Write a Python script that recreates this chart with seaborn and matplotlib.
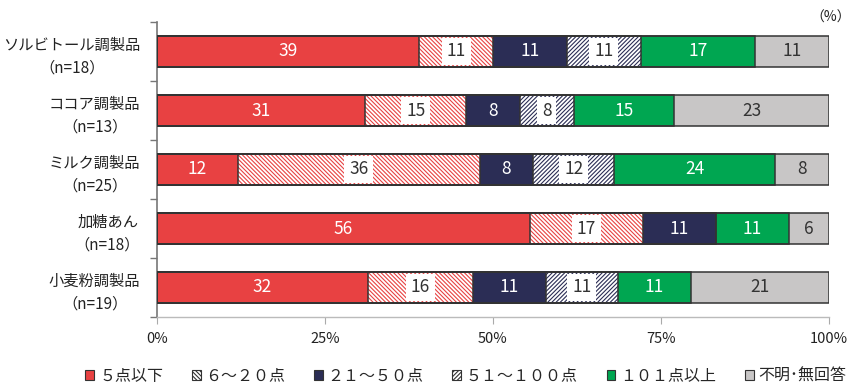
import numpy as np
import pandas as pd
import matplotlib
matplotlib.use("Agg")
import matplotlib.pyplot as plt
from matplotlib.patches import Patch
import seaborn as sns

# ---- data -------------------------------------------------------------
products = ["ソルビトール調製品", "ココア調製品", "ミルク調製品", "加糖あん", "小麦粉調製品"]
sample_sizes = [18, 13, 25, 18, 19]
bands = ["５点以下", "６～２０点", "２１～５０点", "５１～１００点", "１０１点以上", "不明･無回答"]

share_le5 = [39, 31, 12, 56, 32]
share_6_20 = [11, 15, 36, 17, 16]
share_21_50 = [11, 8, 8, 11, 11]
share_51_100 = [11, 8, 12, 0, 11]
share_101 = [17, 15, 24, 11, 11]
share_unknown = [11, 23, 8, 6, 21]

x_ticks = [0, 25, 50, 75, 100]

# ---- styling ------------------------------------------------------------
sns.set_style("white")
plt.rcParams["font.family"] = ["Noto Sans CJK JP", "DejaVu Sans"]
plt.rcParams["hatch.linewidth"] = 0.8

RED = "#E84142"
NAVY = "#2B2D55"
GREEN = "#00A651"
GRAY = "#C8C6C6"
EDGE = "#333333"

# (face, hatch colour, hatch, label colour, white label box)
styles = [
    (RED, RED, None, "white", False),
    ("white", RED, "\\" * 8, "#333333", True),
    (NAVY, NAVY, None, "white", False),
    ("white", NAVY, "/" * 8, "#333333", True),
    (GREEN, GREEN, None, "white", False),
    (GRAY, GRAY, None, "#333333", False),
]

values = np.array([share_le5, share_6_20, share_21_50, share_51_100,
                   share_101, share_unknown], dtype=float).T  # rows = products
totals = values.sum(axis=1, keepdims=True)
scaled = values / totals * 100.0
cum = np.cumsum(scaled, axis=1)
left = cum - scaled

ylabels = [f"{p}\n（n={n}）" for p, n in zip(products, sample_sizes)]

fig = plt.figure(figsize=(8.56, 3.85), dpi=100)
ax = fig.add_axes([157 / 856, 1 - 317 / 385, 672 / 856, 295 / 385])

BAR_W = 0.54

# fills: draw cumulative totals from the widest layer down
for k in range(len(bands) - 1, -1, -1):
    face, hcol, hatch, _, _ = styles[k]
    df = pd.DataFrame({"cat": ylabels, "end": cum[:, k]})
    sns.barplot(data=df, x="end", y="cat", orient="h", order=ylabels,
                color=face, saturation=1, width=BAR_W, ax=ax,
                edgecolor=hcol, linewidth=0, hatch=hatch, zorder=1)

# outlines for every segment boundary, kept above the label boxes
for k in range(len(bands)):
    df = pd.DataFrame({"cat": ylabels, "end": cum[:, k]})
    sns.barplot(data=df, x="end", y="cat", orient="h", order=ylabels,
                fill=False, width=BAR_W, ax=ax, edgecolor=EDGE,
                linewidth=1.1, zorder=4)

# value labels
for i in range(len(products)):
    for k in range(len(bands)):
        v = values[i, k]
        if v <= 0:
            continue
        _, _, _, tcol, boxed = styles[k]
        kw = {}
        if boxed:
            kw["bbox"] = dict(boxstyle="square,pad=0.28", fc="white", ec="none")
        ax.text(left[i, k] + scaled[i, k] / 2, i, f"{int(v)}", ha="center",
                va="center", color=tcol, fontsize=12.5, zorder=3, **kw)

ax.set_xlim(0, 100)
ax.set_ylim(len(products) - 0.5, -0.5)
ax.set_xlabel("")
ax.set_ylabel("")

ax.set_xticks(x_ticks)
ax.set_xticklabels([f"{t}%" for t in x_ticks], fontsize=10.5, color="#222222")
ax.tick_params(axis="x", direction="out", length=5, width=0.8,
               color="#aaaaaa", pad=6, bottom=True)

ax.set_yticks(range(len(products)))
ax.set_yticklabels(ylabels, fontsize=11, multialignment="center",
                   linespacing=1.5, color="#222222")
ax.set_yticks(np.arange(-0.5, len(products), 1.0), minor=True)
ax.tick_params(axis="y", which="major", length=0, pad=12)
ax.tick_params(axis="y", which="minor", direction="out", length=5,
               width=1.0, color="#777777", left=True)

for side in ["top", "right"]:
    ax.spines[side].set_visible(False)
ax.spines["left"].set_color("#777777")
ax.spines["left"].set_linewidth(1.2)
ax.spines["bottom"].set_color("#bbbbbb")
ax.spines["bottom"].set_linewidth(1.0)

fig.text(851 / 856, 1 - 18 / 385, "（%）", ha="right", va="center",
         fontsize=10, color="#222222")

handles = []
for k, b in enumerate(bands):
    face, hcol, hatch, _, _ = styles[k]
    handles.append(Patch(facecolor=face, edgecolor=hcol, hatch=hatch,
                         linewidth=0))
leg = fig.legend(handles, bands, loc="center", ncol=6,
                 bbox_to_anchor=(466 / 856, 1 - 376 / 385), frameon=False,
                 fontsize=11.5, handlelength=0.55, handleheight=0.55,
                 handletextpad=0.3, columnspacing=1.8)
for h in leg.legend_handles:
    h.set_edgecolor(EDGE)
    h.set_linewidth(0.8)

fig.savefig("out.png", dpi=100)
